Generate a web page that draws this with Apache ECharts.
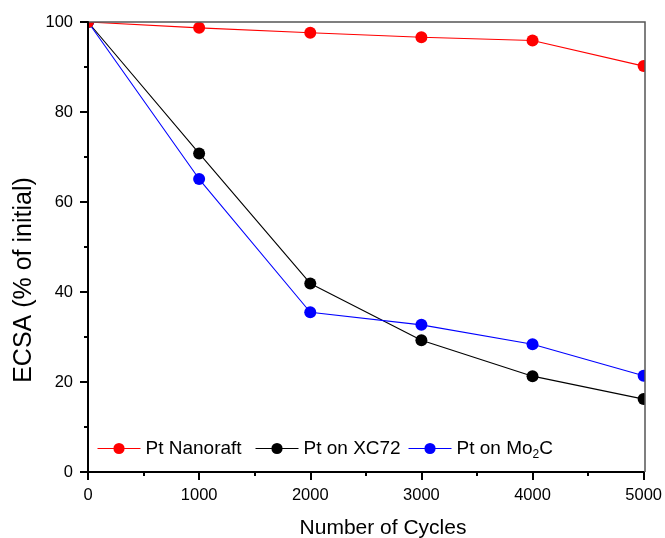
<!DOCTYPE html>
<html>
<head>
<meta charset="utf-8">
<script src="https://cdn.jsdelivr.net/npm/echarts@6/dist/echarts.min.js"></script>
<style>html,body{margin:0;padding:0;background:#fff}#c{width:665px;height:538px}</style>
</head>
<body>
<div id="c"></div>
<script>
const cycles = [0, 1000, 2000, 3000, 4000, 5000];
const nanoraft = [100, 98.7, 97.6, 96.6, 95.9, 90.2];
const xc72 = [100, 70.8, 41.9, 29.3, 21.3, 16.2];
const mo2c = [100, 65.1, 35.5, 32.7, 28.4, 21.4];
const seriesNames = ['Pt Nanoraft', 'Pt on XC72', 'Pt on Mo2C'];
const xTitle = 'Number of Cycles';
const yTitle = 'ECSA (% of initial)';

const G = {l: 88, r: 645, t: 22, b: 472};
const font = 'Liberation Sans, Arial, Helvetica, sans-serif';
const chart = echarts.init(document.getElementById('c'), null, {renderer: 'canvas'});

function pairs(v) { return cycles.map((c, i) => [c, v[i]]); }
function mk(name, data, color) {
  return {
    name, type: 'line', data: pairs(data), symbol: 'circle', symbolSize: 12,
    clip: false, color: color,
    lineStyle: {color, width: 1.1}, itemStyle: {color},
    emphasis: {disabled: true}, animation: false
  };
}
const legendBase = {
  orient: 'horizontal', top: 434, itemWidth: 43, itemHeight: 14, itemGap: 0,
  selectedMode: false,
  lineStyle: {width: 1},
  textStyle: {fontFamily: font, fontSize: 19, color: '#000',
    rich: {n: {fontFamily: font, fontSize: 19, color: '#000'},
           s: {fontFamily: font, fontSize: 12, color: '#000', padding: [12, 0, 0, 0]}}},
  formatter: function (name) {
    if (name === 'Pt on Mo2C') return '{n|Pt on Mo}{s|2}{n|C}';
    return name;
  }
};
chart.setOption({
  animation: false,
  grid: {left: G.l, right: 665 - G.r, top: G.t, bottom: 538 - G.b, containLabel: false},
  legend: [
    Object.assign({}, legendBase, {left: 92, data: [seriesNames[0]]}),
    Object.assign({}, legendBase, {left: 250, data: [seriesNames[1]]}),
    Object.assign({}, legendBase, {left: 403, data: [seriesNames[2]]})
  ],
  xAxis: {
    type: 'value', min: 0, max: 5000, interval: 1000, z: 60,
    axisLine: {show: true, onZero: false, lineStyle: {color: '#000', width: 2}},
    axisTick: {show: true, inside: false, length: 8, lineStyle: {color: '#000', width: 2}},
    minorTick: {show: true, splitNumber: 2, length: 4, lineStyle: {color: '#000', width: 2}},
    axisLabel: {fontFamily: font, fontSize: 16.5, color: '#000', margin: 15,
      formatter: function (v) { return String(v); }},
    splitLine: {show: false}
  },
  yAxis: {
    type: 'value', min: 0, max: 100, interval: 20, z: 60,
    axisLine: {show: true, onZero: false, lineStyle: {color: '#000', width: 2}},
    axisTick: {show: true, inside: false, length: 8, lineStyle: {color: '#000', width: 2}},
    minorTick: {show: true, splitNumber: 2, length: 4, lineStyle: {color: '#000', width: 2}},
    axisLabel: {fontFamily: font, fontSize: 16.5, color: '#000', margin: 15},
    splitLine: {show: false}
  },
  graphic: [
    {type: 'rect', z: 50, silent: true, shape: {x: 0, y: 0, width: G.l, height: 538}, style: {fill: '#fff'}},
    {type: 'rect', z: 50, silent: true, shape: {x: 0, y: 0, width: 665, height: G.t}, style: {fill: '#fff'}},
    {type: 'rect', z: 50, silent: true, shape: {x: G.r, y: 0, width: 665 - G.r, height: 538}, style: {fill: '#fff'}},
    {type: 'rect', z: 50, silent: true, shape: {x: 0, y: G.b, width: 665, height: 538 - G.b}, style: {fill: '#fff'}},
    {type: 'polyline', z: 55, silent: true, shape: {points: [[G.l, G.t], [G.r, G.t], [G.r, G.b]]},
      style: {stroke: '#555', lineWidth: 1.5, fill: null}},
    {type: 'text', z: 65, silent: true, x: 383, y: 528,
      style: {text: xTitle, font: '21px ' + font, fill: '#000', textAlign: 'center', textVerticalAlign: 'middle'}},
    {type: 'text', z: 65, silent: true, x: 24, y: 280, rotation: Math.PI / 2,
      style: {text: yTitle, font: '25px ' + font, fill: '#000', textAlign: 'center', textVerticalAlign: 'middle'}}
  ],
  series: [
    mk(seriesNames[1], xc72, '#000000'),
    mk(seriesNames[2], mo2c, '#0000ff'),
    mk(seriesNames[0], nanoraft, '#ff0000')
  ]
});
</script>
</body>
</html>
